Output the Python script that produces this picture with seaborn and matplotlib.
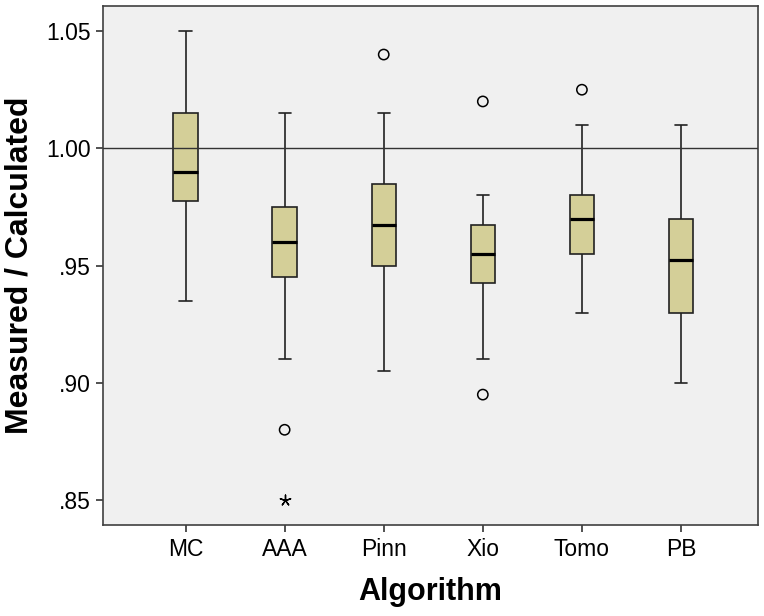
import numpy as np
import pandas as pd
import matplotlib
matplotlib.use("Agg")
import matplotlib.pyplot as plt
import seaborn as sns

algorithms = ["MC", "AAA", "Pinn", "Xio", "Tomo", "PB"]

mc = [0.935, 0.95, 0.965, 0.9775, 0.98, 0.985, 0.99, 0.995, 1.005, 1.015, 1.025, 1.035, 1.05]
aaa = [0.85, 0.88, 0.91, 0.945, 0.95, 0.955, 0.96, 0.965, 0.97, 0.975, 0.99, 1.00, 1.015]
pinn = [0.905, 0.925, 0.94, 0.95, 0.955, 0.96, 0.9675, 0.97, 0.98, 0.985, 1.00, 1.015, 1.04]
xio = [0.895, 0.91, 0.93, 0.9425, 0.945, 0.95, 0.955, 0.96, 0.965, 0.9675, 0.975, 0.98, 1.02]
tomo = [0.93, 0.94, 0.95, 0.955, 0.96, 0.965, 0.97, 0.972, 0.975, 0.98, 0.995, 1.01, 1.025]
pb = [0.90, 0.91, 0.92, 0.93, 0.935, 0.945, 0.9525, 0.955, 0.96, 0.97, 0.985, 1.00, 1.01]

yticks = [0.85, 0.90, 0.95, 1.00, 1.05]
ytick_labels = [".85", ".90", ".95", "1.00", "1.05"]

groups = dict(zip(algorithms, [mc, aaa, pinn, xio, tomo, pb]))
df = pd.DataFrame([(k, v) for k, vals in groups.items() for v in vals],
                  columns=["Algorithm", "ratio"])

sns.set_theme(style="white")
plt.rcParams['font.family'] = ['Liberation Sans', 'DejaVu Sans']
plt.rcParams['text.color'] = 'black'
plt.rcParams['axes.labelcolor'] = 'black'

fig = plt.figure(figsize=(7.64, 6.16), dpi=100)
ax = fig.add_axes([103 / 764, 1 - 525 / 616, 655 / 764, 519 / 616])
ax.set_facecolor("#f0f0f0")

edge = "#222222"
sns.boxplot(data=df, x="Algorithm", y="ratio", order=algorithms, width=0.245,
            color="#d4cf98", saturation=1, showfliers=False, whis=1.5,
            linewidth=1.2, linecolor=edge,
            medianprops={"color": "black", "linewidth": 2.3},
            ax=ax)

# SPSS style: circles for outliers (>1.5 IQR), asterisks for extremes (>3 IQR)
for i, name in enumerate(algorithms):
    vals = np.array(groups[name])
    q1, q3 = np.percentile(vals, [25, 75])
    iqr = q3 - q1
    far = (vals < q1 - 3 * iqr) | (vals > q3 + 3 * iqr)
    out = ((vals < q1 - 1.5 * iqr) | (vals > q3 + 1.5 * iqr)) & ~far
    ax.scatter(np.full(out.sum(), i), vals[out], s=55, facecolors="none",
               edgecolors="black", linewidths=1.1, zorder=4)
    ax.scatter(np.full(far.sum(), i), vals[far], s=60, marker=(5, 2, 0),
               color="black", linewidths=1.0, zorder=4)

ax.axhline(1.0, color="#333333", lw=1.0, zorder=5)

ax.set_xlim(-0.833, 5.777)
ax.set_ylim(0.8394, 1.0607)
ax.set_yticks(yticks)
ax.set_yticklabels(ytick_labels)
ax.tick_params(axis="both", direction="out", length=5, width=1.1, color=edge,
               labelsize=16.5, labelcolor="black", pad=4, left=True, bottom=True)
for s in ax.spines.values():
    s.set_color("#404040")
    s.set_linewidth(1.2)

ax.set_xlabel("Algorithm", fontsize=22, fontweight="bold", labelpad=12)
ax.set_ylabel("Measured / Calculated", fontsize=23, fontweight="bold", labelpad=8)

fig.savefig("out.png", dpi=100)
